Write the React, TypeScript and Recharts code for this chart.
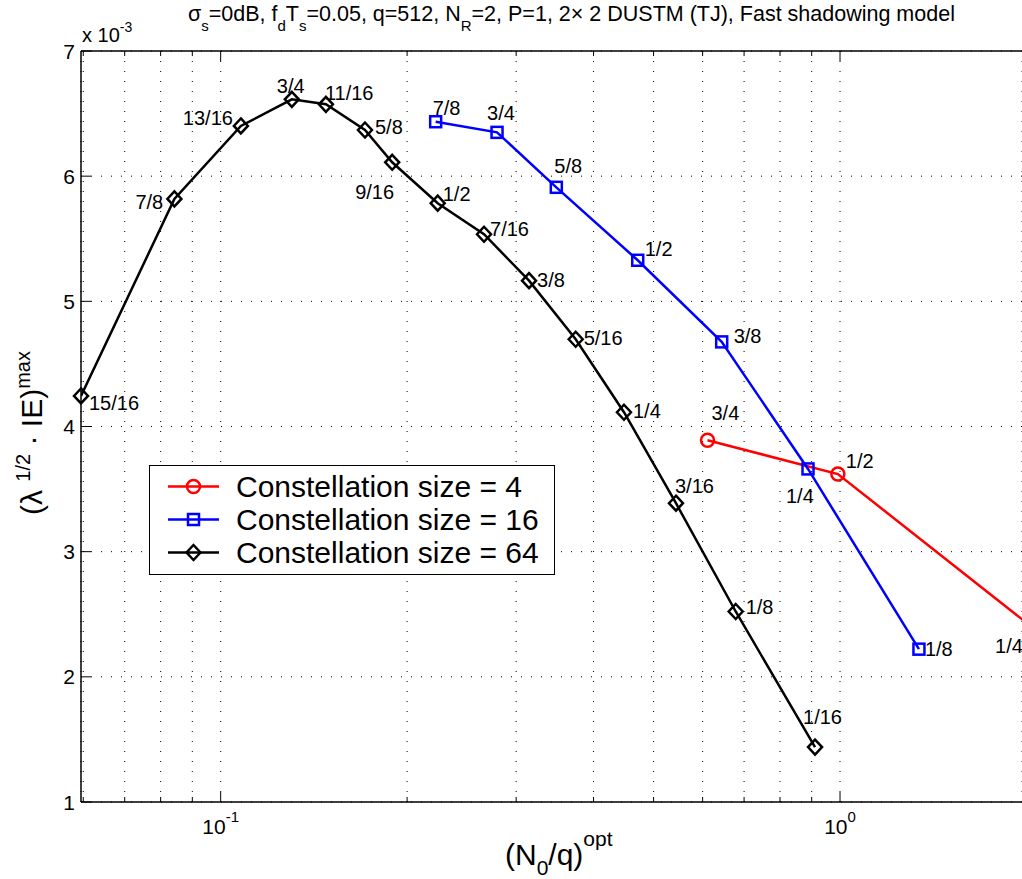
import {
  LineChart,
  Line,
  XAxis,
  YAxis,
  CartesianGrid,
  Legend,
  ReferenceLine,
  LabelList,
} from "recharts";

const FONT = '"Liberation Sans", Arial, Helvetica, sans-serif';

// constellation size 4 (red circles)
const rate4 = ["3/4", "1/2", "1/4"];
const n0q4 = [0.611, 0.992, 2.05];
const ie4 = [3.89, 3.62, 2.39];

// constellation size 16 (blue squares)
const rate16 = ["7/8", "3/4", "5/8", "1/2", "3/8", "1/4", "1/8"];
const n0q16 = [0.2224, 0.2794, 0.3483, 0.4714, 0.6441, 0.8878, 1.341];
const ie16 = [6.435, 6.35, 5.911, 5.328, 4.676, 3.661, 2.221];

// constellation size 64 (black diamonds)
const rate64 = [
  "15/16", "7/8", "13/16", "3/4", "11/16", "5/8", "9/16", "1/2",
  "7/16", "3/8", "5/16", "1/4", "3/16", "1/8", "1/16",
];
const n0q64 = [
  0.0595, 0.0842, 0.1078, 0.1303, 0.1479, 0.171, 0.1892, 0.2241,
  0.2662, 0.3147, 0.3743, 0.4479, 0.5434, 0.6785, 0.9113,
];
const ie64 = [
  4.244, 5.818, 6.401, 6.614, 6.574, 6.369, 6.111, 5.784,
  5.536, 5.165, 4.697, 4.114, 3.387, 2.522, 1.439,
];

const xTicks = [0.06, 0.07, 0.08, 0.09, 0.1, 0.2, 0.3, 0.4, 0.5, 0.6, 0.7, 0.8, 0.9, 1];
const xMajor = [0.1, 1];
const yTicks = [1, 2, 3, 4, 5, 6, 7];

// where each rate label sits relative to its marker (left edge, middle)
const off4 = [[4, -27], [8, -13], [-38, 18]];
const off16 = [[-3, -14], [-10, -19], [-2, -21], [7, -11], [12, -6], [-22, 27], [6, 0]];
const off64 = [
  [8, 7], [-39, 3], [-58, -8], [-15, -13], [-1, -11], [10, -3], [-37, 30], [5, -9],
  [6, -5], [8, -1], [8, -1], [9, -1], [-1, -17], [10, -4], [-12, -30],
];

const W = 1022;
const H = 879;
const PLOT_LEFT = 81;
const PLOT_TOP = 51;
const PLOT_BOTTOM = 802;
const LW = 2.5;

const rows = (x: number[], y: number[], r: string[]) =>
  x.map((v, i) => ({ n0q: v, ie: y[i], rate: r[i] }));

type Shape = "circle" | "square" | "diamond";

function Marker({ cx, cy, shape, color }: { cx: number; cy: number; shape: Shape; color: string }) {
  if (shape === "circle")
    return <circle cx={cx} cy={cy} r={6.5} fill="none" stroke={color} strokeWidth={LW} />;
  if (shape === "square")
    return <rect x={cx - 5.5} y={cy - 5.5} width={11} height={11} fill="none" stroke={color} strokeWidth={LW} />;
  return (
    <polygon
      points={`${cx},${cy - 7.5} ${cx + 7},${cy} ${cx},${cy + 7.5} ${cx - 7},${cy}`}
      fill="none"
      stroke={color}
      strokeWidth={LW}
    />
  );
}

const makeLabel = (shape: Shape, color: string, offsets: number[][]) => (props: any) => {
  const cx = props.x ?? props.viewBox?.x;
  const cy = props.y ?? props.viewBox?.y;
  const index = props.index ?? 0;
  if (cx == null || cy == null) return null;
  const [dx, dy] = offsets[index] || [6, 0];
  return (
    <g key={`lab-${shape}-${index}`}>
      <Marker cx={cx} cy={cy} shape={shape} color={color} />
      <text
        x={cx + dx}
        y={cy + dy}
        fontFamily={FONT}
        fontSize={20}
        fill="#000"
        dominantBaseline="central"
      >
        {props.value}
      </text>
    </g>
  );
};

function XTick(props: any) {
  const { x, payload } = props;
  const v = payload.value;
  const major = xMajor.includes(v);
  const len = major ? 10 : 5;
  const e = Math.round(Math.log10(v));
  return (
    <g>
      <line x1={x} x2={x} y1={PLOT_BOTTOM} y2={PLOT_BOTTOM - len} stroke="#000" />
      <line x1={x} x2={x} y1={PLOT_TOP} y2={PLOT_TOP + len} stroke="#000" />
      {major && (
        <text x={x} y={834} textAnchor="middle" fontFamily={FONT} fontSize={21} fill="#000">
          10
          <tspan dy={-12} fontSize={15}>
            {e === 0 ? "0" : `-${-e}`}
          </tspan>
        </text>
      )}
    </g>
  );
}

function YTick(props: any) {
  const { y, payload } = props;
  return (
    <g>
      <line x1={PLOT_LEFT} x2={PLOT_LEFT + 10} y1={y} y2={y} stroke="#000" />
      <text x={75} y={y} textAnchor="end" dominantBaseline="central" fontFamily={FONT} fontSize={21} fill="#000">
        {payload.value}
      </text>
    </g>
  );
}

const legendItems: { name: string; shape: Shape; color: string }[] = [
  { name: "Constellation size = 4", shape: "circle", color: "#ff0000" },
  { name: "Constellation size = 16", shape: "square", color: "#0000ff" },
  { name: "Constellation size = 64", shape: "diamond", color: "#000000" },
];

function LegendBox() {
  return (
    <div
      style={{
        boxSizing: "border-box",
        width: 406,
        height: 110,
        border: "1px solid #000",
        background: "#fff",
        paddingTop: 4,
        fontFamily: FONT,
        fontSize: 30,
        color: "#000",
      }}
    >
      {legendItems.map((it) => (
        <div key={it.name} style={{ display: "flex", alignItems: "center", height: 33 }}>
          <svg width={86} height={33} style={{ flex: "none" }}>
            <line x1={18} x2={69} y1={16.5} y2={16.5} stroke={it.color} strokeWidth={LW} />
            <Marker cx={43.5} cy={16.5} shape={it.shape} color={it.color} />
          </svg>
          <span style={{ whiteSpace: "nowrap", lineHeight: "33px" }}>{it.name}</span>
        </div>
      ))}
    </div>
  );
}

export default function App() {
  return (
    <div style={{ position: "absolute", left: 0, top: 0, width: W, height: H, background: "#fff" }}>
      <LineChart width={W} height={H} margin={{ top: PLOT_TOP, right: 0, bottom: 0, left: 0 }}>
        <CartesianGrid stroke="#000" strokeWidth={1} strokeDasharray="1 9" />
        <XAxis
          dataKey="n0q"
          type="number"
          scale="log"
          domain={[0.0595, 1.967]}
          allowDataOverflow
          ticks={xTicks}
          tick={<XTick />}
          tickLine={false}
          axisLine={{ stroke: "#000", strokeWidth: 1.5 }}
          height={77}
          interval={0}
        />
        <YAxis
          type="number"
          domain={[1, 7]}
          ticks={yTicks}
          tick={<YTick />}
          tickLine={false}
          axisLine={{ stroke: "#000", strokeWidth: 1.5 }}
          width={81}
          interval={0}
        />
        <ReferenceLine y={7} stroke="#000" strokeWidth={1.5} />
        <Line
          data={rows(n0q4, ie4, rate4)}
          dataKey="ie"
          type="linear"
          stroke="#ff0000"
          strokeWidth={LW}
          dot={false}
          activeDot={false}
          isAnimationActive={false}
        >
          <LabelList dataKey="rate" content={makeLabel("circle", "#ff0000", off4)} />
        </Line>
        <Line
          data={rows(n0q16, ie16, rate16)}
          dataKey="ie"
          type="linear"
          stroke="#0000ff"
          strokeWidth={LW}
          dot={false}
          activeDot={false}
          isAnimationActive={false}
        >
          <LabelList dataKey="rate" content={makeLabel("square", "#0000ff", off16)} />
        </Line>
        <Line
          data={rows(n0q64, ie64, rate64)}
          dataKey="ie"
          type="linear"
          stroke="#000000"
          strokeWidth={LW}
          dot={false}
          activeDot={false}
          isAnimationActive={false}
        >
          <LabelList dataKey="rate" content={makeLabel("diamond", "#000000", off64)} />
        </Line>
        <Legend
          layout="vertical"
          verticalAlign="middle"
          align="center"
          content={() => <LegendBox />}
          wrapperStyle={{ position: "absolute", left: 149, top: 465, width: 406, height: 110 }}
        />
        {/* title */}
        <text x={188} y={21} fontFamily={FONT} fontSize={21.5} fill="#000">
          σ<tspan dy={10} fontSize={15}>s</tspan>
          <tspan dy={-10}>=0dB, f</tspan>
          <tspan dy={10} fontSize={15}>d</tspan>
          <tspan dy={-10}>T</tspan>
          <tspan dy={10} fontSize={15}>s</tspan>
          <tspan dy={-10}>=0.05, q=512, N</tspan>
          <tspan dy={10} fontSize={15}>R</tspan>
          <tspan dy={-10}>=2, P=1, 2× 2 DUSTM (TJ), Fast shadowing model</tspan>
        </text>
        {/* axis multiplier */}
        <text x={82} y={42} fontFamily={FONT} fontSize={20} fill="#000">
          x 10<tspan dy={-10} fontSize={14}>-3</tspan>
        </text>
        {/* x label */}
        <text x={505} y={865} fontFamily={FONT} fontSize={30} fill="#000">
          (N<tspan dy={10} fontSize={21}>0</tspan>
          <tspan dy={-10}>/q)</tspan>
          <tspan dy={-19} fontSize={21}>opt</tspan>
        </text>
        {/* y label */}
        <text transform="translate(42, 515) rotate(-90)" x={0} y={0} fontFamily={FONT} fontSize={30} fill="#000">
          (λ <tspan dy={-12} fontSize={20}>1/2</tspan>
          <tspan dy={12}> · IE)</tspan>
          <tspan dy={-12} fontSize={20}>max</tspan>
        </text>
      </LineChart>
    </div>
  );
}
